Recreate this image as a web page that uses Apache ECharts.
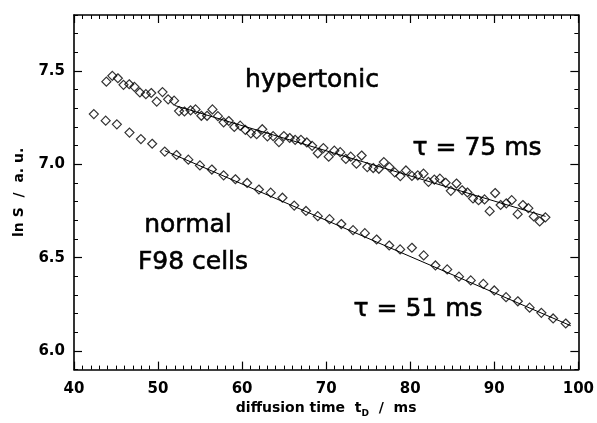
<!DOCTYPE html>
<html>
<head>
<meta charset="utf-8">
<script src="https://cdn.jsdelivr.net/npm/echarts@6/dist/echarts.min.js"></script>
<style>
html,body{margin:0;padding:0;background:#fff;}
#chart{width:597px;height:423px;}
</style>
</head>
<body>
<div id="chart"></div>
<script>
// ---- data ----
const hyperX = [43.85,44.56,45.22,45.89,46.57,47.19,47.84,48.55,49.19,49.84,50.53,51.20,51.91,52.50,53.14,53.87,54.46,55.15,55.83,56.47,57.12,57.80,58.41,59.07,59.77,60.39,61.04,61.73,62.40,63.01,63.69,64.38,64.97,65.66,66.31,67.00,67.70,68.33,69.00,69.67,70.30,70.97,71.67,72.34,72.92,73.60,74.22,74.89,75.60,76.27,76.86,77.52,78.16,78.82,79.49,80.20,80.90,81.58,82.17,82.87,83.53,84.21,84.83,85.50,86.17,86.80,87.47,88.13,88.84,89.45,90.10,90.75,91.43,92.07,92.78,93.40,94.05,94.70,95.40,96.08];
const hyperY = [7.443,7.474,7.461,7.426,7.429,7.415,7.385,7.376,7.382,7.336,7.387,7.348,7.341,7.285,7.283,7.289,7.294,7.260,7.260,7.294,7.258,7.225,7.232,7.200,7.207,7.184,7.166,7.161,7.188,7.150,7.151,7.119,7.151,7.141,7.131,7.131,7.117,7.099,7.059,7.087,7.041,7.073,7.065,7.029,7.041,7.003,7.047,6.985,6.980,6.976,7.012,6.985,6.957,6.937,6.967,6.938,6.941,6.950,6.906,6.918,6.923,6.901,6.858,6.897,6.861,6.849,6.817,6.808,6.812,6.749,6.846,6.782,6.791,6.808,6.733,6.782,6.765,6.721,6.694,6.716];
const normalX = [42.36,43.77,45.10,46.60,47.96,49.30,50.80,52.20,53.60,54.98,56.40,57.80,59.20,60.60,62.00,63.40,64.80,66.20,67.60,69.00,70.40,71.80,73.20,74.60,76.00,77.50,78.80,80.20,81.60,83.00,84.40,85.80,87.20,88.70,90.00,91.40,92.80,94.20,95.60,97.00,98.50];
const normalY = [7.269,7.234,7.214,7.170,7.135,7.110,7.068,7.050,7.025,6.994,6.972,6.941,6.920,6.900,6.865,6.848,6.821,6.779,6.750,6.722,6.706,6.680,6.647,6.631,6.597,6.565,6.544,6.553,6.512,6.458,6.437,6.398,6.378,6.359,6.324,6.288,6.266,6.232,6.204,6.174,6.147];
const hyperFitX = [52.0, 96.1];
const hyperFitY = [7.315, 6.721];
const normalFitX = [50.8, 99.1];
const normalFitY = [7.073, 6.135];
const xTicks = [40, 50, 60, 70, 80, 90, 100];
const yTicks = [6.0, 6.5, 7.0, 7.5];
const xRange = [40, 100];
const yRange = [5.9, 7.8];

// ---- chart ----
const zip = (xs, ys) => xs.map((x, i) => [x, ys[i]]);
const FONT = 'DejaVu Sans';
const lineStyle = {color: '#000', width: 1.6};
const chart = echarts.init(document.getElementById('chart'), null, {renderer: 'canvas'});

function xAx(pos, show) {
  return {
    type: 'value', position: pos, min: xRange[0], max: xRange[1], interval: 10,
    axisLine: {show: true, onZero: false, lineStyle},
    axisTick: {inside: true, length: 8, lineStyle: {color: '#000', width: 1.2}},
    minorTick: {show: true, splitNumber: 10, length: 4, lineStyle: {color: '#000', width: 1}},
    splitLine: {show: false}, minorSplitLine: {show: false},
    axisLabel: {show: show, margin: 12, color: '#000', fontFamily: FONT, fontWeight: 'bold', fontSize: 15},
    name: show ? 'diffusion time  t{s|D}  /  ms' : '',
    nameLocation: 'middle', nameGap: 26,
    nameTextStyle: {color: '#000', fontFamily: FONT, fontWeight: 'bold', fontSize: 14,
      rich: {s: {fontFamily: FONT, fontWeight: 'bold', fontSize: 9, color: '#000', padding: [10, 0, 0, 0]}}}
  };
}
function yMajor(pos, show) {
  return {
    type: 'value', position: pos, min: yRange[0], max: yRange[1],
    axisLine: {show: true, onZero: false, lineStyle},
    axisTick: {inside: true, length: 8, customValues: yTicks, lineStyle: {color: '#000', width: 1.2}},
    splitLine: {show: false},
    axisLabel: {show: show, customValues: yTicks, formatter: v => v.toFixed(1), margin: 9,
      color: '#000', fontFamily: FONT, fontWeight: 'bold', fontSize: 15},
    name: show ? 'ln S  /  a. u.' : '',
    nameLocation: 'middle', nameGap: 48, nameRotate: 90,
    nameTextStyle: {color: '#000', fontFamily: FONT, fontWeight: 'bold', fontSize: 14}
  };
}
function yMinor(pos) {
  return {
    type: 'value', position: pos, min: yRange[0], max: yRange[1], interval: 0.1,
    axisLine: {show: false},
    axisTick: {inside: true, length: 4, lineStyle: {color: '#000', width: 1}},
    splitLine: {show: false},
    axisLabel: {show: false}
  };
}
const annStyle = (text) => ({text, font: '25px "DejaVu Sans"', fill: '#000', stroke: '#000', lineWidth: 0.6,
  align: 'center', verticalAlign: 'middle'});

const option = {
  backgroundColor: '#fff',
  animation: false,
  grid: {left: 74, right: 14.5, top: 15, bottom: 49.5},
  xAxis: [xAx('bottom', true), xAx('top', false)],
  yAxis: [yMajor('left', true), yMajor('right', false), yMinor('left'), yMinor('right')],
  series: [
    {type: 'line', data: zip(hyperFitX, hyperFitY), showSymbol: false, symbol: 'none',
      lineStyle: {color: '#000', width: 1}, z: 2},
    {type: 'line', data: zip(normalFitX, normalFitY), showSymbol: false, symbol: 'none',
      lineStyle: {color: '#000', width: 1}, z: 2},
    {type: 'scatter', data: zip(hyperX, hyperY), symbol: 'diamond', symbolSize: 9,
      itemStyle: {color: 'rgba(0,0,0,0)', borderColor: '#000', borderWidth: 1.2}, z: 3},
    {type: 'scatter', data: zip(normalX, normalY), symbol: 'diamond', symbolSize: 9,
      itemStyle: {color: 'rgba(0,0,0,0)', borderColor: '#000', borderWidth: 1.2}, z: 3}
  ],
  graphic: [
    {type: 'text', x: 312, y: 80, style: annStyle('hypertonic')},
    {type: 'text', x: 477, y: 148, style: annStyle('τ = 75 ms')},
    {type: 'text', x: 418, y: 309, style: annStyle('τ = 51 ms')},
    {type: 'text', x: 188, y: 225, style: annStyle('normal')},
    {type: 'text', x: 193, y: 262, style: annStyle('F98 cells')}
  ]
};
chart.setOption(option);
</script>
</body>
</html>
